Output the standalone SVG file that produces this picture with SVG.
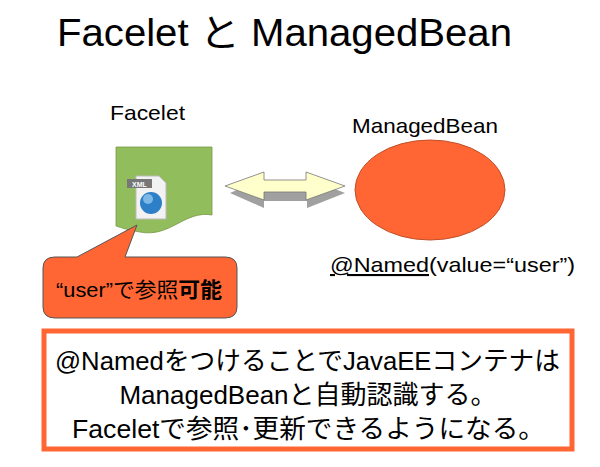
<svg xmlns="http://www.w3.org/2000/svg" width="600" height="467" viewBox="0 0 600 467">
<style>
text{font-family:"Liberation Sans","Noto Sans CJK JP",sans-serif;fill:#000}
</style>
<rect width="600" height="467" fill="#fff"/>
<text x="57" y="46" font-size="38" textLength="455" lengthAdjust="spacingAndGlyphs">Facelet と ManagedBean</text>
<g id="facelet">
<text x="110" y="120" font-size="21" textLength="75" lengthAdjust="spacingAndGlyphs">Facelet</text>
<path d="M116,147 H212 V215 C185,210 170,238 140,232 C128,230 122,228 116,226 Z" fill="#92bd5c" stroke="#7a9a4a" stroke-width="0.8"/>
<path d="M136,176 H159 L166,183 V219 H136 Z" fill="#f2f2f2" stroke="#bbb"/>
<rect x="127" y="179" width="25" height="9" fill="#777"/>
<text x="139.5" y="186.5" font-size="7" font-weight="bold" text-anchor="middle" style="fill:#fff">XML</text>
<circle cx="151" cy="203" r="11" fill="#2d7fc7"/>
<circle cx="148" cy="199" r="5" fill="#9fd0f5" opacity="0.7"/>
</g>
<g id="callout">
<path d="M55,257 H77 L137,225 L125,257 H225 Q237,257 237,268 V307 Q237,318 225,318 H55 Q43,318 43,307 V268 Q43,257 55,257 Z" fill="#ff6633" stroke="#555" stroke-width="1"/>
<text x="56" y="297" font-size="21" textLength="166" lengthAdjust="spacingAndGlyphs">“user”で参照<tspan font-weight="bold">可能</tspan></text>
</g>
<g id="connectors">
<path d="M230,193 L264,178 V185 H307 V178 L345,193 L307,208 V201 H264 V208 Z" fill="#888" opacity="0.8"/>
<path d="M225,186 L264,172 V180 H306 V172 L345,186 L306,200 V192 H264 V200 Z" fill="#ffffcc" stroke="#777" stroke-width="0.8"/>
</g>
<g id="managedbean">
<text x="352" y="133" font-size="21" textLength="146" lengthAdjust="spacingAndGlyphs">ManagedBean</text>
<ellipse cx="430" cy="190" rx="75" ry="50" fill="#ff6633" stroke="#c0502a" stroke-width="1"/>
<text x="330" y="272" font-size="21" textLength="245" lengthAdjust="spacingAndGlyphs"><tspan text-decoration="underline">@Named</tspan>(value=“user”)</text>
</g>
<g id="note">
<rect x="44" y="331" width="528" height="118" fill="#fff" stroke="#ff6633" stroke-width="5"/>
<text x="55" y="370" font-size="26" textLength="505" lengthAdjust="spacingAndGlyphs">@Namedをつけることで<tspan font-family="Liberation Sans,sans-serif">JavaEE</tspan>コンテナは</text>
<text x="308" y="404" font-size="26" text-anchor="middle">ManagedBeanと自動認識する。</text>
<text x="72" y="438" font-size="26" textLength="473" lengthAdjust="spacingAndGlyphs">Faceletで参照･更新できるようになる。</text>
</g>
</svg>
